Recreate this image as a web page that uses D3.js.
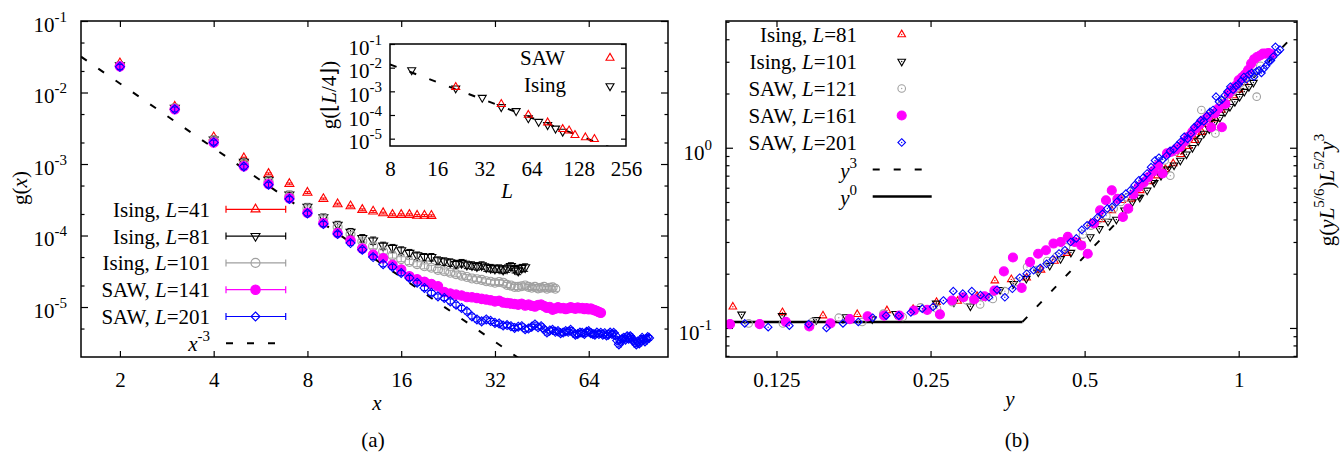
<!DOCTYPE html>
<html>
<head>
<meta charset="utf-8">
<script src="https://d3js.org/d3.v7.min.js"></script>
<title>g(x) scaling</title>
<style>
  body { margin: 0px; background: #fff; }
  text { font-family: "Liberation Serif", "Times New Roman", serif; fill: #000; }
</style>
</head>
<body>
<svg width="1341" height="456"></svg>
<script>
// ---------- panel (a): g(x) for x = 2 .. L/2 ----------
const xFirstA = 2;
const gIsing41 = [2.57e-2, 6.35e-3, 2.37e-3, 1.21e-3, 7.3e-4, 5.28e-4, 3.98e-4, 3.25e-4, 2.75e-4, 2.57e-4,
  2.29e-4, 2.17e-4, 2.06e-4, 1.95e-4, 1.95e-4, 1.95e-4, 1.90e-4, 1.90e-4, 1.89e-4];
const gIsing81 = [2.40e-2, 6.10e-3, 2.19e-3, 1.07e-3, 5.96e-4, 3.72e-4, 2.51e-4, 1.79e-4, 1.41e-4, 1.12e-4,
  9.2e-5, 8.5e-5, 7.2e-5, 6.7e-5, 6.2e-5, 5.7e-5, 5.25e-5, 5.0e-5, 5.0e-5, 4.49e-5,
  4.35e-5, 4.21e-5, 3.99e-5, 4.13e-5, 3.91e-5, 3.83e-5, 3.72e-5, 3.83e-5, 3.59e-5, 3.52e-5,
  3.44e-5, 3.47e-5, 3.33e-5, 3.47e-5, 3.72e-5, 3.40e-5, 3.22e-5, 3.52e-5, 3.59e-5];
const gIsing101 = [2.37e-2, 6.03e-3, 2.14e-3, 1.02e-3, 5.75e-4, 3.59e-4, 2.40e-4, 1.74e-4, 1.32e-4, 1.05e-4,
  8.3e-5, 7.1e-5, 6.0e-5, 5.25e-5, 4.68e-5, 4.27e-5, 3.98e-5, 3.72e-5, 3.55e-5, 3.31e-5,
  3.16e-5, 3.02e-5, 2.88e-5, 2.75e-5, 2.63e-5, 2.51e-5, 2.45e-5, 2.40e-5, 2.29e-5, 2.26e-5,
  2.19e-5, 2.24e-5, 2.19e-5, 2.04e-5, 2.00e-5, 1.91e-5, 1.91e-5, 1.95e-5, 2.00e-5, 1.91e-5,
  1.86e-5, 1.91e-5, 1.82e-5, 1.86e-5, 1.91e-5, 1.80e-5, 1.86e-5, 1.88e-5, 1.80e-5];
const gSaw141 = [2.32e-2, 5.85e-3, 2.0e-3, 9.3e-4, 5.25e-4, 3.31e-4, 2.08e-4, 1.49e-4, 1.08e-4, 8.5e-5,
  6.6e-5, 5.4e-5, 4.8e-5, 3.9e-5, 3.35e-5, 2.7e-5, 2.45e-5, 2.25e-5, 2.1e-5, 1.95e-5,
  1.62e-5, 1.55e-5, 1.49e-5, 1.45e-5, 1.38e-5, 1.37e-5, 1.34e-5, 1.30e-5, 1.27e-5, 1.24e-5,
  1.20e-5, 1.22e-5, 1.16e-5, 1.14e-5, 1.12e-5, 1.10e-5, 1.08e-5, 1.11e-5, 1.05e-5, 1.08e-5,
  1.04e-5, 1.02e-5, 1.07e-5, 1.08e-5, 1.03e-5, 9.8e-6, 1.00e-5, 9.2e-6, 9.5e-6, 9.9e-6,
  9.6e-6, 9.7e-6, 9.4e-6, 9.6e-6, 9.9e-6, 9.7e-6, 9.5e-6, 9.8e-6, 9.6e-6, 9.7e-6,
  9.4e-6, 9.6e-6, 9.3e-6, 9.5e-6, 9.2e-6, 9.0e-6, 8.8e-6, 8.5e-6, 8.3e-6];
const gSaw201 = [2.29e-2, 5.82e-3, 2.0e-3, 9.2e-4, 5.13e-4, 3.24e-4, 2.04e-4, 1.45e-4, 1.05e-4, 7.85e-5,
  6.34e-5, 5.0e-5, 3.98e-5, 3.63e-5, 2.99e-5, 2.55e-5, 2.19e-5, 1.85e-5, 1.58e-5, 1.41e-5,
  1.34e-5, 1.20e-5, 1.08e-5, 9.7e-6, 8.7e-6, 7.4e-6, 6.7e-6, 6.3e-6, 6.7e-6, 6.4e-6,
  6.0e-6, 5.9e-6, 5.5e-6, 5.6e-6, 5.4e-6, 5.1e-6, 5.3e-6, 5.4e-6, 4.9e-6, 5.0e-6,
  5.3e-6, 5.7e-6, 5.2e-6, 5.4e-6, 4.9e-6, 4.4e-6, 4.7e-6, 4.8e-6, 4.5e-6, 4.6e-6,
  4.3e-6, 4.4e-6, 4.6e-6, 4.5e-6, 4.8e-6, 4.4e-6, 4.1e-6, 4.2e-6, 4.4e-6, 4.36e-6,
  4.2e-6, 4.5e-6, 4.6e-6, 4.3e-6, 4.2e-6, 4.1e-6, 4.4e-6, 4.2e-6, 4.36e-6, 4.1e-6,
  4.3e-6, 4.0e-6, 4.1e-6, 4.4e-6, 4.2e-6, 4.36e-6, 4.0e-6, 3.4e-6, 3.0e-6, 3.3e-6,
  3.6e-6, 3.7e-6, 3.5e-6, 3.9e-6, 3.6e-6, 3.9e-6, 3.7e-6, 3.4e-6, 3.2e-6, 3.0e-6,
  3.3e-6, 3.1e-6, 3.4e-6, 3.7e-6, 3.5e-6, 3.3e-6, 3.6e-6, 3.8e-6, 3.7e-6];
const relErrA = [0.03, 0.12, 0.08, 0.04, 0.08];

// inset: g(floor(L/4)) against L
const insetSawL = [21, 41, 61, 81, 101, 111, 121, 141, 161];
const insetSawG = [1.51e-3, 2.88e-4, 1.0e-4, 4.8e-5, 2.5e-5, 2.19e-5, 1.41e-5, 1.12e-5, 9.5e-6];
const insetIsingL = [11, 21, 31, 41, 51, 61, 71, 81, 91, 101];
const insetIsingG = [7.9e-3, 1.35e-3, 5.4e-4, 2.19e-4, 1.48e-4, 7.4e-5, 5.2e-5, 3.8e-5, 2.7e-5, 2.0e-5];

// ---------- panel (b): g(yL^5/6) L^5/2 y^3 against y = x / L^5/6 ----------
const xFirstB = [4, 5, 6, 7, 9];
const fIsing81 = [0.131, 0.122, 0.117, 0.119, 0.125, 0.127, 0.139, 0.141, 0.150, 0.183,
  0.186, 0.190, 0.210, 0.235, 0.260, 0.300, 0.380, 0.400, 0.449, 0.511,
  0.520, 0.580, 0.650, 0.700, 0.760, 0.817, 0.920, 1.02, 1.10, 1.22,
  1.35, 1.45, 1.62, 1.88, 1.95, 2.10, 2.30];
const fIsing101 = [0.119, 0.117, 0.111, 0.115, 0.112, 0.120, 0.128, 0.137, 0.139, 0.132,
  0.150, 0.163, 0.176, 0.188, 0.204, 0.222, 0.242, 0.262, 0.290, 0.320,
  0.355, 0.390, 0.400, 0.450, 0.500, 0.530, 0.580, 0.640, 0.700, 0.760,
  0.800, 0.850, 0.920, 1.00, 1.09, 1.20, 1.27, 1.38, 1.47, 1.58,
  1.69, 1.80, 1.92, 2.05, 2.18, 2.30];
const fSaw121 = [0.106, 0.106, 0.108, 0.114, 0.108, 0.120, 0.115, 0.130, 0.128, 0.139,
  0.142, 0.135, 0.145, 0.160, 0.180, 0.218, 0.210, 0.235, 0.250, 0.280,
  0.300, 0.330, 0.370, 0.400, 0.420, 0.460, 0.500, 0.530, 0.580, 0.620,
  0.660, 0.740, 0.780, 0.850, 0.700, 0.950, 1.02, 1.08, 1.20, 1.30,
  1.62, 1.45, 1.55, 1.20, 1.70, 1.82, 1.90, 2.05, 2.15, 2.30,
  2.45, 2.70, 2.60, 1.92, 2.85];
const fSaw161 = [0.105, 0.105, 0.108, 0.102, 0.106, 0.112, 0.116, 0.117, 0.117, 0.125,
  0.126, 0.119, 0.142, 0.148, 0.144, 0.150, 0.161, 0.206, 0.246, 0.167,
  0.232, 0.258, 0.270, 0.294, 0.300, 0.320, 0.300, 0.287, 0.258, 0.380,
  0.449, 0.511, 0.580, 0.520, 0.413, 0.459, 0.550, 0.606, 0.640, 0.688,
  0.740, 0.800, 0.720, 0.930, 0.950, 0.980, 1.01, 1.08, 1.15, 1.22,
  1.28, 1.35, 1.42, 1.48, 1.30, 1.55, 1.65, 1.30, 1.75, 2.00,
  2.10, 2.20, 2.37, 2.45, 2.55, 2.70, 2.93, 3.10, 3.19, 3.25,
  3.33, 3.33, 3.35, 3.30];
const fSaw201 = [0.106, 0.101, 0.103, 0.105, 0.100, 0.106, 0.108, 0.114, 0.117, 0.117,
  0.122, 0.128, 0.131, 0.142, 0.160, 0.155, 0.160, 0.152, 0.148, 0.163,
  0.148, 0.165, 0.190, 0.200, 0.209, 0.215, 0.227, 0.240, 0.259, 0.270,
  0.300, 0.314, 0.350, 0.371, 0.386, 0.410, 0.430, 0.460, 0.470, 0.500,
  0.530, 0.556, 0.580, 0.620, 0.660, 0.680, 0.720, 0.780, 0.850, 0.880,
  0.860, 0.900, 0.960, 0.980, 1.03, 1.08, 1.15, 1.12, 1.20, 1.30,
  1.35, 1.42, 1.40, 1.50, 1.58, 1.62, 1.92, 1.80, 1.85, 1.95,
  2.05, 2.18, 2.10, 2.20, 2.25, 2.35, 2.47, 2.40, 2.55, 2.60,
  2.48, 2.65, 2.69, 2.60, 2.75, 2.85, 3.00, 3.05, 3.20, 3.63,
  3.40, 3.50];

// tick labels
const ticksXA = [2, 4, 8, 16, 32, 64];
const ticksYA = [1e-1, 1e-2, 1e-3, 1e-4, 1e-5];
const ticksXI = [8, 16, 32, 64, 128, 256];
const ticksXB = ["0.125", "0.25", "0.5", "1"];
const ticksYB = [0.1, 1];

const colors = ['#ff0000', '#000000', '#a0a0a0', '#ff00ff', '#0000ff'];
const shapes = ['tri', 'itri', 'circle', 'dot', 'diamond'];

const seriesA = [
  {kind: 'Ising', L: 41, g: gIsing41},
  {kind: 'Ising', L: 81, g: gIsing81},
  {kind: 'Ising', L: 101, g: gIsing101},
  {kind: 'SAW', L: 141, g: gSaw141},
  {kind: 'SAW', L: 201, g: gSaw201}
].map((s, i) => ({...s, color: colors[i], shape: shapes[i], err: relErrA[i],
  pts: s.g.map((v, j) => ({x: xFirstA + j, v}))}));

const seriesB = [
  {kind: 'Ising', L: 81, f: fIsing81},
  {kind: 'Ising', L: 101, f: fIsing101},
  {kind: 'SAW', L: 121, f: fSaw121},
  {kind: 'SAW', L: 161, f: fSaw161},
  {kind: 'SAW', L: 201, f: fSaw201}
].map((s, i) => ({...s, color: colors[i], shape: shapes[i],
  pts: s.f.map((v, j) => ({y: (xFirstB[i] + j) / Math.pow(s.L, 5 / 6), v}))}));

const svg = d3.select('svg');
const FS = 21, SUP = 15;

function rich(t, parts) {
  let up = false;
  parts.forEach(p => {
    const ts = t.append('tspan').text(p.t);
    if (p.i) ts.attr('font-style', 'italic');
    if (p.s) { ts.attr('font-size', SUP); if (!up) { ts.attr('dy', -10); up = true; } }
    else if (up) { ts.attr('dy', 10); up = false; }
  });
  return t;
}

function markerPath(shape, s) {
  if (shape === 'tri') return `M0,${-1.15 * s}L${s},${0.58 * s}L${-s},${0.58 * s}Z`;
  if (shape === 'itri') return `M0,${1.15 * s}L${s},${-0.58 * s}L${-s},${-0.58 * s}Z`;
  if (shape === 'diamond') return `M0,${-s}L${s},0L0,${s}L${-s},0Z`;
  return d3.symbol(d3.symbolCircle, Math.PI * s * s)();
}

function drawMarker(g, shape, color, x, y, s, centerDot) {
  const filled = shape === 'dot';
  g.append('path')
    .attr('transform', `translate(${x},${y})`)
    .attr('d', markerPath(shape, filled ? s * 1.05 : s))
    .attr('fill', filled ? color : 'none')
    .attr('stroke', color)
    .attr('stroke-width', 1.1);
  if (centerDot && !filled) {
    g.append('circle').attr('cx', x).attr('cy', y).attr('r', 0.7).attr('fill', color);
  }
}

function styleAxis(g) {
  g.select('.domain').remove();
  g.attr('font-family', null).attr('font-size', FS);
  g.selectAll('line').attr('stroke', '#000').attr('stroke-width', 1.2);
}

function logLabels(g, dy) {
  g.selectAll('text').each(function(d) {
    const t = d3.select(this).text(null).attr('dy', dy);
    rich(t, [{t: '10'}, {t: String(Math.round(Math.log10(d))), s: true}]);
  });
}

// ================= panel (a) =================
const A = {l: 81, r: 668, t: 21, b: 357};
const xA = d3.scaleLog().base(2).domain([1.5, 115]).range([A.l, A.r]);
const yA = d3.scaleLog().domain([2e-6, 0.1]).range([A.b, A.t]);
const minorA = [];
[-6, -5, -4, -3, -2].forEach(e => { minorA.push(2 * 10 ** e, 5 * 10 ** e); });
const minorAIn = minorA.filter(v => v > 2e-6 && v < 0.1);

svg.append('defs').html(
  `<clipPath id="clipA"><rect x="${A.l}" y="${A.t}" width="${A.r - A.l}" height="${A.b - A.t}"/></clipPath>` +
  `<clipPath id="clipB"><rect x="726" y="21" width="571" height="336"/></clipPath>` +
  `<clipPath id="clipI"><rect x="390" y="44" width="236" height="102"/></clipPath>`);

svg.append('g').attr('transform', `translate(0,${A.b})`)
  .call(d3.axisBottom(xA).tickValues(ticksXA).tickFormat(d3.format('d')).tickSize(-6).tickSizeOuter(0).tickPadding(15))
  .call(styleAxis);
svg.append('g').attr('transform', `translate(0,${A.t})`)
  .call(d3.axisBottom(xA).tickValues(ticksXA).tickFormat('').tickSize(6).tickSizeOuter(0))
  .call(styleAxis);
svg.append('g').attr('transform', `translate(${A.l},0)`)
  .call(d3.axisLeft(yA).tickValues(ticksYA).tickSize(-7).tickSizeOuter(0).tickPadding(14))
  .call(styleAxis).call(g => logLabels(g, 10));
svg.append('g').attr('transform', `translate(${A.l},0)`)
  .call(d3.axisLeft(yA).tickValues(minorAIn).tickFormat('').tickSize(-3.5).tickSizeOuter(0))
  .call(styleAxis);
svg.append('g').attr('transform', `translate(${A.r},0)`)
  .call(d3.axisLeft(yA).tickValues(ticksYA).tickFormat('').tickSize(7).tickSizeOuter(0))
  .call(styleAxis);
svg.append('g').attr('transform', `translate(${A.r},0)`)
  .call(d3.axisLeft(yA).tickValues(minorAIn).tickFormat('').tickSize(3.5).tickSizeOuter(0))
  .call(styleAxis);

const plotA = svg.append('g').attr('clip-path', 'url(#clipA)');
// x^-3 reference line
const powA = {c: 0.107, p: -3, from: 1.5, to: 40};
plotA.append('path')
  .datum([powA.from, powA.to].map(x => ({x, v: powA.c * Math.pow(x, powA.p)})))
  .attr('d', d3.line().x(d => xA(d.x)).y(d => yA(d.v)))
  .attr('fill', 'none').attr('stroke', '#000').attr('stroke-width', 2).attr('stroke-dasharray', '7,14');

seriesA.forEach(s => {
  const g = plotA.append('g');
  s.pts.forEach(p => {
    const cx = xA(p.x), y0 = yA(p.v * (1 - s.err)), y1 = yA(p.v * (1 + s.err));
    g.append('path').attr('d', `M${cx},${y0}V${y1}M${cx - 3},${y0}H${cx + 3}M${cx - 3},${y1}H${cx + 3}`)
      .attr('stroke', s.color).attr('stroke-width', 1).attr('fill', 'none');
    drawMarker(g, s.shape, s.color, cx, yA(p.v), 4.5, false);
  });
});

svg.append('rect').attr('x', A.l).attr('y', A.t).attr('width', A.r - A.l).attr('height', A.b - A.t)
  .attr('fill', 'none').attr('stroke', '#000').attr('stroke-width', 1.5);

// legend (a)
const legA = svg.append('g');
seriesA.forEach((s, i) => {
  const y = 209.3 + 26.8 * i;
  rich(legA.append('text').attr('x', 210).attr('y', y + 7.5).attr('text-anchor', 'end').attr('font-size', FS),
    [{t: s.kind + ', '}, {t: 'L', i: true}, {t: '=' + s.L}]);
  legA.append('path').attr('d', `M226,${y}H285.7M226,${y - 3.5}V${y + 3.5}M285.7,${y - 3.5}V${y + 3.5}`)
    .attr('stroke', s.color).attr('stroke-width', 1.2).attr('fill', 'none');
  drawMarker(legA, s.shape, s.color, 255.5, y, 4.5, false);
});
{
  const y = 209.3 + 26.8 * 5;
  rich(legA.append('text').attr('x', 210).attr('y', y + 7.5).attr('text-anchor', 'end').attr('font-size', FS),
    [{t: 'x', i: true}, {t: '-3', s: true}]);
  legA.append('path').attr('d', `M226,${y}H277`).attr('stroke', '#000').attr('stroke-width', 2)
    .attr('stroke-dasharray', '7,14');
}

rich(svg.append('text').attr('transform', 'translate(27,188) rotate(-90)').attr('text-anchor', 'middle').attr('font-size', FS),
  [{t: 'g('}, {t: 'x', i: true}, {t: ')'}]);
svg.append('text').attr('x', 377).attr('y', 410).attr('text-anchor', 'middle').attr('font-size', FS)
  .attr('font-style', 'italic').text('x');
svg.append('text').attr('x', 373).attr('y', 447).attr('text-anchor', 'middle').attr('font-size', FS).text('(a)');

// ---------- inset ----------
const I = {l: 390, r: 626, t: 44, b: 146};
const xI = d3.scaleLog().base(2).domain([8, 256]).range([I.l, I.r]);
const yI = d3.scaleLog().domain([4.9e-6, 0.1]).range([I.b, I.t]);
svg.append('rect').attr('x', I.l).attr('y', I.t).attr('width', I.r - I.l).attr('height', I.b - I.t)
  .attr('fill', '#fff');
svg.append('g').attr('transform', `translate(0,${I.b})`)
  .call(d3.axisBottom(xI).tickValues(ticksXI).tickFormat(d3.format('d')).tickSize(0).tickSizeOuter(0).tickPadding(15))
  .call(styleAxis);
svg.append('g').attr('transform', `translate(${I.l},0)`)
  .call(d3.axisLeft(yI).tickValues(ticksYA).tickSize(-5).tickSizeOuter(0).tickPadding(8))
  .call(styleAxis).call(g => logLabels(g, 10));
svg.append('g').attr('transform', `translate(${I.r},0)`)
  .call(d3.axisLeft(yI).tickValues(ticksYA).tickFormat('').tickSize(5).tickSizeOuter(0))
  .call(styleAxis);
const plotI = svg.append('g').attr('clip-path', 'url(#clipI)');
const powI = {c: 0.0138, p: -2.5, from: 8, to: 256};
plotI.append('path')
  .datum([powI.from, powI.to].map(L => ({L, v: powI.c * Math.pow(L / 8, powI.p)})))
  .attr('d', d3.line().x(d => xI(d.L)).y(d => yI(d.v)))
  .attr('fill', 'none').attr('stroke', '#000').attr('stroke-width', 2).attr('stroke-dasharray', '7,14');
insetIsingL.forEach((L, i) => drawMarker(plotI, 'itri', '#000', xI(L), yI(insetIsingG[i]), 4, false));
insetSawL.forEach((L, i) => drawMarker(plotI, 'tri', '#ff0000', xI(L), yI(insetSawG[i]), 4, false));
svg.append('text').attr('x', 565).attr('y', 65).attr('text-anchor', 'end').attr('font-size', FS).text('SAW');
svg.append('text').attr('x', 566).attr('y', 92).attr('text-anchor', 'end').attr('font-size', FS).text('Ising');
drawMarker(svg, 'tri', '#ff0000', 610, 58, 4, false);
drawMarker(svg, 'itri', '#000', 610, 86, 4, false);
svg.append('rect').attr('x', I.l).attr('y', I.t).attr('width', I.r - I.l).attr('height', I.b - I.t)
  .attr('fill', 'none').attr('stroke', '#000').attr('stroke-width', 1.5);
rich(svg.append('text').attr('transform', 'translate(336,95) rotate(-90)').attr('text-anchor', 'middle').attr('font-size', FS),
  [{t: 'g(\u230A'}, {t: 'L', i: true}, {t: '/4\u230B)'}]);
svg.append('text').attr('x', 507).attr('y', 198).attr('text-anchor', 'middle').attr('font-size', FS)
  .attr('font-style', 'italic').text('L');

// ================= panel (b) =================
const B = {l: 726, r: 1297, t: 21, b: 357};
const xB = d3.scaleLog().base(2).domain([0.0996, 1.3]).range([B.l, B.r]);
const yB = d3.scaleLog().domain([0.069, 5.05]).range([B.b, B.t]);
const minorB = [0.07, 0.08, 0.09, 0.2, 0.3, 0.4, 0.5, 0.6, 0.7, 0.8, 0.9, 2, 3, 4, 5];

svg.append('g').attr('transform', `translate(0,${B.b})`)
  .call(d3.axisBottom(xB).tickValues(ticksXB.map(Number)).tickFormat((d, i) => ticksXB[i]).tickSize(-6).tickSizeOuter(0).tickPadding(15))
  .call(styleAxis);
svg.append('g').attr('transform', `translate(0,${B.t})`)
  .call(d3.axisBottom(xB).tickValues(ticksXB.map(Number)).tickFormat('').tickSize(6).tickSizeOuter(0))
  .call(styleAxis);
svg.append('g').attr('transform', `translate(${B.l},0)`)
  .call(d3.axisLeft(yB).tickValues(ticksYB).tickSize(-7).tickSizeOuter(0).tickPadding(14))
  .call(styleAxis).call(g => logLabels(g, 12));
svg.append('g').attr('transform', `translate(${B.l},0)`)
  .call(d3.axisLeft(yB).tickValues(minorB).tickFormat('').tickSize(-3.5).tickSizeOuter(0))
  .call(styleAxis);
svg.append('g').attr('transform', `translate(${B.r},0)`)
  .call(d3.axisLeft(yB).tickValues(ticksYB).tickFormat('').tickSize(7).tickSizeOuter(0))
  .call(styleAxis);
svg.append('g').attr('transform', `translate(${B.r},0)`)
  .call(d3.axisLeft(yB).tickValues(minorB).tickFormat('').tickSize(3.5).tickSizeOuter(0))
  .call(styleAxis);

const plotB = svg.append('g').attr('clip-path', 'url(#clipB)');
const flatB = {c: 0.108, from: 0.0996, to: 0.378};
const cubeB = {c: 2.0, p: 3, from: 0.378, to: 1.26};
plotB.append('path')
  .datum([flatB.from, flatB.to].map(y => ({y, v: flatB.c})))
  .attr('d', d3.line().x(d => xB(d.y)).y(d => yB(d.v)))
  .attr('fill', 'none').attr('stroke', '#000').attr('stroke-width', 2.6);
plotB.append('path')
  .datum([cubeB.from, cubeB.to].map(y => ({y, v: cubeB.c * Math.pow(y, cubeB.p)})))
  .attr('d', d3.line().x(d => xB(d.y)).y(d => yB(d.v)))
  .attr('fill', 'none').attr('stroke', '#000').attr('stroke-width', 2).attr('stroke-dasharray', '7,14');

seriesB.forEach(s => {
  const g = plotB.append('g');
  s.pts.forEach(p => drawMarker(g, s.shape, s.color, xB(p.y), yB(p.v), s.shape === 'dot' ? 4.3 : 3.8, true));
});

svg.append('rect').attr('x', B.l).attr('y', B.t).attr('width', B.r - B.l).attr('height', B.b - B.t)
  .attr('fill', 'none').attr('stroke', '#000').attr('stroke-width', 1.5);

// legend (b)
const legB = svg.append('g');
seriesB.forEach((s, i) => {
  const y = 34.5 + 27 * i;
  rich(legB.append('text').attr('x', 857).attr('y', y + 7.5).attr('text-anchor', 'end').attr('font-size', FS),
    [{t: s.kind + ', '}, {t: 'L', i: true}, {t: '=' + s.L}]);
  drawMarker(legB, s.shape, s.color, 901.7, y, s.shape === 'dot' ? 4.3 : 3.8, true);
});
{
  const y3 = 34.5 + 27 * 5, y0 = 34.5 + 27 * 6;
  rich(legB.append('text').attr('x', 857).attr('y', y3 + 8).attr('text-anchor', 'end').attr('font-size', FS),
    [{t: 'y', i: true}, {t: '3', s: true}]);
  legB.append('path').attr('d', `M872.7,${y3}H925`).attr('stroke', '#000').attr('stroke-width', 2)
    .attr('stroke-dasharray', '7,14');
  rich(legB.append('text').attr('x', 857).attr('y', y0 + 8).attr('text-anchor', 'end').attr('font-size', FS),
    [{t: 'y', i: true}, {t: '0', s: true}]);
  legB.append('path').attr('d', `M872.7,${y0}H931.7`).attr('stroke', '#000').attr('stroke-width', 2.6);
}

rich(svg.append('text').attr('transform', 'translate(1334,190) rotate(-90)').attr('text-anchor', 'middle').attr('font-size', FS),
  [{t: 'g('}, {t: 'yL', i: true}, {t: '5/6', s: true}, {t: ')'}, {t: 'L', i: true}, {t: '5/2', s: true},
   {t: 'y', i: true}, {t: '3', s: true}]);
svg.append('text').attr('x', 1010).attr('y', 406).attr('text-anchor', 'middle').attr('font-size', FS)
  .attr('font-style', 'italic').text('y');
svg.append('text').attr('x', 1017).attr('y', 447).attr('text-anchor', 'middle').attr('font-size', FS).text('(b)');
</script>
</body>
</html>
